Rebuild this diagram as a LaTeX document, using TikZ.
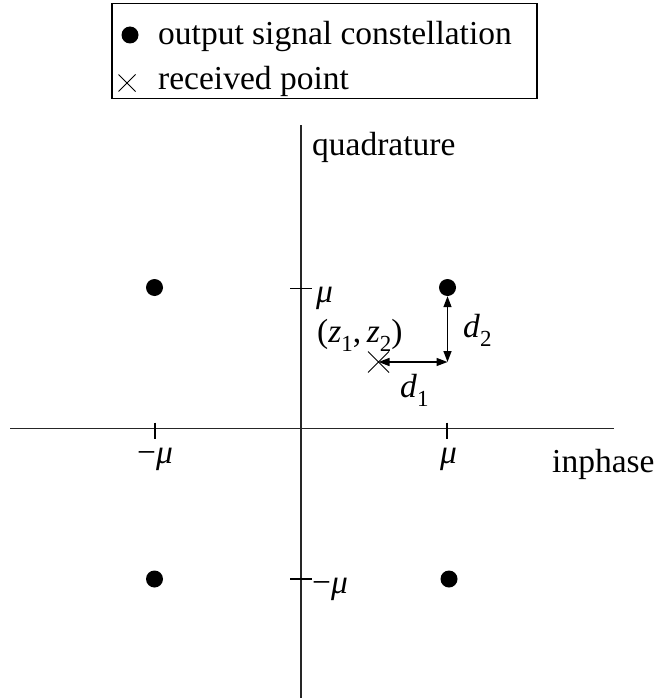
\documentclass[tikz,border=0pt]{standalone}
\usepackage{fontspec}
\setmainfont{Liberation Serif}
\usetikzlibrary{arrows.meta,shapes.misc}
\newcommand\sbs[1]{\raisebox{-0.28em}{\fontsize{23}{23}\selectfont #1}}
\newcommand\mmu{\textit{μ}}
\begin{document}
\begin{tikzpicture}[x=1pt,y=-1pt,
  lbl/.style={inner sep=0pt, font=\fontsize{33.5}{40}\selectfont},
  dotmark/.style={circle, fill=black, minimum size=17pt, inner sep=0pt},
  xmark/.style={cross out, draw, line width=1pt, inner sep=0pt, minimum size=#1},
  axisline/.style={line width=1.6pt, draw=black!85},
  tickline/.style={line width=1.2pt},
  dist/.style={line width=1.4pt, {Triangle[length=11pt,width=8pt]}-{Triangle[length=11pt,width=8pt]}}
]
\useasboundingbox (0,0) rectangle (654,698);

% legend
\node[draw, line width=1.5pt, minimum width=425pt, minimum height=95pt, anchor=north west, inner sep=0pt] (legend) at (111,3) {};
\node[dotmark] (ldot) at (130,35) {};
\node[lbl, anchor=base west] (ltext1) at (158,45) {output signal constellation};
\node[xmark=16pt] (lx) at (127,83) {};
\node[lbl, anchor=base west] (ltext2) at (158,90) {received point};

% axes
\coordinate (hl) at (10,428.5);
\coordinate (hr) at (614,428.5);
\coordinate (vt) at (301,125);
\coordinate (vb) at (301,698);
\draw[axisline] (hl) -- (hr);
\draw[axisline] (vt) -- (vb);

% ticks
\coordinate (tx1a) at (155,422.5); \coordinate (tx1b) at (155,439);
\coordinate (tx2a) at (447,422.5); \coordinate (tx2b) at (447,439);
\coordinate (ty1a) at (290,288.5); \coordinate (ty1b) at (311.5,288.5);
\coordinate (ty2a) at (290,579); \coordinate (ty2b) at (311.5,579);
\draw[tickline] (tx1a) -- (tx1b);
\draw[tickline] (tx2a) -- (tx2b);
\draw[tickline] (ty1a) -- (ty1b);
\draw[tickline] (ty2a) -- (ty2b);

% axis labels
\node[lbl, anchor=base west] (qlab) at (312,155) {quadrature};
\node[lbl, anchor=base west] (ilab) at (552,472) {inphase};
\node[lbl, anchor=base west] (mxneg) at (137,463) {−\mmu};
\node[lbl, anchor=base west] (mxpos) at (440,463) {\mmu};
\node[lbl, anchor=base west] (mypos) at (316,302) {\mmu};
\node[lbl, anchor=base west] (myneg) at (312,593) {−\mmu};

% constellation points
\node[dotmark] (p1) at (154.5,287.5) {};
\node[dotmark] (p2) at (447.5,287.5) {};
\node[dotmark] (p3) at (154.5,579) {};
\node[dotmark] (p4) at (449,579) {};

% received point and distances
\node[xmark=20pt] (rx) at (378.5,362) {};
\coordinate (corner) at (447.5,362);
\draw[dist] (p2.south) -- (corner);
\draw[dist] (rx.center) -- (corner);

\node[lbl, anchor=base west] (zlab) at (317,342) {(\textit{z}\sbs{1},\,\textit{z}\sbs{2})};
\node[lbl, anchor=base west] (d2lab) at (463,337) {\textit{d}\sbs{2}};
\node[lbl, anchor=base west] (d1lab) at (400,397) {\textit{d}\sbs{1}};
\end{tikzpicture}
\end{document}
